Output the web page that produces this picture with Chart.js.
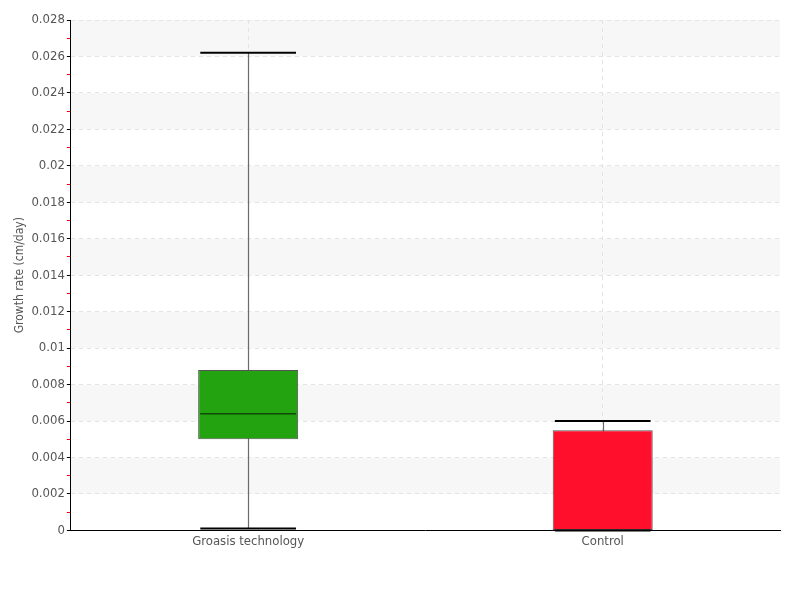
<!DOCTYPE html>
<html lang="en">
<head>
<meta charset="UTF-8">
<title>Growth rate</title>
<script src="https://cdn.jsdelivr.net/npm/chart.js"></script>
<style>
  html, body { margin: 0; padding: 0; background: #fff; }
  #wrap { width: 800px; height: 600px; }
</style>
</head>
<body>
<div id="wrap"><canvas id="grafico"></canvas></div>
<script>
// Box plot values
const categories = ['Groasis technology', 'Control'];
const whiskerMin = [0.0001, 0];
const q1 = [0.005, 0];
const median = [0.0064, 0];
const q3 = [0.0088, 0.0055];
const whiskerMax = [0.0262, 0.006];
const boxColors = ['#22a30f', '#ff0f2b'];

const yMin = 0;
const yMax = 0.028;
const yStep = 0.001; // every other tick is a minor (red) tick

const FONT = '"DejaVu Sans Condensed", "Liberation Sans Narrow", sans-serif';

function isMinor(v) {
  return Math.round(v / yStep) % 2 !== 0;
}

// Alternating background bands behind the plot
const bands = {
  id: 'bands',
  beforeDraw(chart) {
    const { ctx, chartArea } = chart;
    const y = chart.scales.y;
    ctx.save();
    ctx.fillStyle = '#f7f7f7';
    for (let v = 0.002; v < yMax; v += 0.004) {
      const top = y.getPixelForValue(v + 0.002);
      const bottom = y.getPixelForValue(v);
      ctx.fillRect(chartArea.left, top, chartArea.right - chartArea.left, bottom - top);
    }
    ctx.restore();
  }
};

// Whisker lines go under the boxes, caps and medians on top
const whiskers = {
  id: 'whiskers',
  beforeDatasetsDraw(chart) {
    const { ctx } = chart;
    const x = chart.scales.x, y = chart.scales.y;
    ctx.save();
    ctx.strokeStyle = '#6b6b6b';
    ctx.lineWidth = 1.2;
    categories.forEach((c, i) => {
      const cx = Math.round(x.getPixelForValue(i)) + 0.5;
      ctx.beginPath();
      ctx.moveTo(cx, y.getPixelForValue(whiskerMax[i]));
      ctx.lineTo(cx, y.getPixelForValue(whiskerMin[i]));
      ctx.stroke();
    });
    ctx.restore();
  },
  afterDatasetsDraw(chart) {
    const { ctx } = chart;
    const x = chart.scales.x, y = chart.scales.y;
    const capHalf = x.width / categories.length * 0.135;
    ctx.save();
    categories.forEach((c, i) => {
      const cx = x.getPixelForValue(i);
      ctx.strokeStyle = '#000';
      ctx.lineWidth = 2;
      [whiskerMax[i], whiskerMin[i]].forEach(v => {
        const py = y.getPixelForValue(v);
        ctx.beginPath();
        ctx.moveTo(cx - capHalf, py);
        ctx.lineTo(cx + capHalf, py);
        ctx.stroke();
      });
      // median (skip when it sits on the box edge)
      if (median[i] === q1[i] || median[i] === q3[i]) return;
      const meta = chart.getDatasetMeta(0).data[i];
      const half = meta.width / 2;
      const my = y.getPixelForValue(median[i]);
      ctx.strokeStyle = 'rgba(0,0,0,0.55)';
      ctx.lineWidth = 1.5;
      ctx.beginPath();
      ctx.moveTo(cx - half + 2, my);
      ctx.lineTo(cx + half - 2, my);
      ctx.stroke();
    });
    ctx.restore();
  }
};

new Chart(document.getElementById('grafico'), {
  type: 'bar',
  data: {
    labels: categories,
    datasets: [{
      data: categories.map((c, i) => [q1[i], q3[i]]),
      backgroundColor: boxColors,
      borderColor: '#555',
      borderWidth: 1,
      borderSkipped: false,
      barPercentage: 0.282,
      categoryPercentage: 1
    }]
  },
  options: {
    responsive: true,
    maintainAspectRatio: false,
    animation: false,
    layout: { padding: { top: 20, right: 20, bottom: 48, left: 11 } },
    plugins: {
      legend: { display: false },
      tooltip: { enabled: false }
    },
    scales: {
      x: {
        grid: {
          offset: false,
          color: '#e4e4e4',
          drawTicks: false
        },
        border: { color: '#000', width: 1, dash: [4, 4] },
        ticks: {
          color: '#555',
          padding: 3,
          font: { family: FONT, size: 13 }
        }
      },
      y: {
        min: yMin,
        max: yMax,
        ticks: {
          stepSize: yStep,
          autoSkip: false,
          color: '#555',
          padding: 2,
          font: { family: FONT, size: 13 },
          callback: (v) => isMinor(v) ? '' : String(+v.toFixed(3))
        },
        grid: {
          color: (ctx) => isMinor(ctx.tick.value) ? 'rgba(0,0,0,0)' : '#e4e4e4',
          tickColor: (ctx) => isMinor(ctx.tick.value) ? '#ff0000' : '#000',
          tickLength: 4,
          tickBorderDash: []
        },
        border: { color: '#000', width: 1, dash: [4, 4] },
        title: {
          display: true,
          text: 'Growth rate (cm/day)',
          color: '#555',
          padding: 2,
          font: { family: FONT, size: 12 }
        }
      }
    }
  },
  plugins: [bands, whiskers]
});
</script>
</body>
</html>
